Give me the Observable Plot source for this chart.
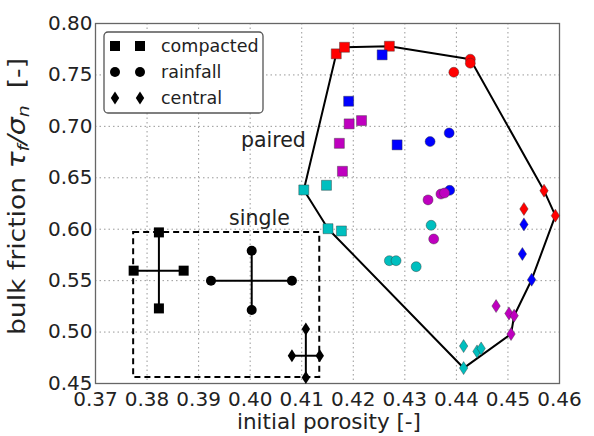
<!DOCTYPE html>
<html><head><meta charset="utf-8">
<script src="https://cdn.jsdelivr.net/npm/d3@7"></script>
<script src="https://cdn.jsdelivr.net/npm/@observablehq/plot@0.6"></script>
<style>
body{margin:0;background:#fff}
svg{font-family:"DejaVu Sans",sans-serif}
</style>
</head><body><div id="chart"></div>
<script>
// ---- data ----
const xTicks = [0.37,0.38,0.39,0.40,0.41,0.42,0.43,0.44,0.45,0.46];
const yTicks = [0.45,0.50,0.55,0.60,0.65,0.70,0.75,0.80];
const groupColors = {red:"#ff0000", blue:"#0000ff", magenta:"#bf00bf", cyan:"#00bfbf"};

const compactedX = [0.4167,0.4183,0.4270, 0.4256,0.4191,0.4285, 0.4192,0.4216,0.4173,0.4179, 0.4104,0.4148,0.4151,0.4177];
const compactedY = [0.7705,0.7769,0.7779, 0.7695,0.7244,0.6820, 0.7024,0.7056,0.6835,0.6563, 0.6382,0.6427,0.6005,0.5983];
const compactedG = ["red","red","red","blue","blue","blue","magenta","magenta","magenta","magenta","cyan","cyan","cyan","cyan"];

const rainfallX = [0.4427,0.4427,0.4395, 0.4349,0.4386,0.4387, 0.4345,0.4370,0.4377,0.4356, 0.4351,0.4270,0.4283,0.4322];
const rainfallY = [0.7653,0.7614,0.7526, 0.6852,0.6936,0.6378, 0.6285,0.6342,0.6352,0.5905, 0.6038,0.5694,0.5694,0.5636];
const rainfallG = ["red","red","red","blue","blue","blue","magenta","magenta","magenta","magenta","cyan","cyan","cyan","cyan"];

const centralX = [0.4570,0.4531,0.4592, 0.4531,0.4528,0.4546, 0.4477,0.4502,0.4512,0.4506, 0.4414,0.4440,0.4448,0.4414];
const centralY = [0.6375,0.6197,0.6132, 0.6047,0.5759,0.5509, 0.5253,0.5181,0.5159,0.4981, 0.4864,0.4812,0.4841,0.4650];
const centralG = ["red","red","red","blue","blue","blue","magenta","magenta","magenta","magenta","cyan","cyan","cyan","cyan"];

// hull of the paired tests
const hullX = [0.4167,0.4183,0.4270,0.4427,0.4570,0.4592,0.4546,0.4512,0.4506,0.4414,0.4151,0.4104,0.4167];
const hullY = [0.7705,0.7769,0.7779,0.7653,0.6375,0.6132,0.5509,0.5159,0.4981,0.4650,0.6005,0.6382,0.7705];

// single tests: centre and range
const singleType = ["compacted","rainfall","central"];
const singleX   = [0.3823,0.4003,0.4108];
const singleY   = [0.5597,0.5499,0.4770];
const singleXLo = [0.3774,0.3924,0.4081];
const singleXHi = [0.3871,0.4081,0.4135];
const singleYLo = [0.5230,0.5214,0.4559];
const singleYHi = [0.5969,0.5791,0.5029];

const labelText = ["paired","single"];
const labelX = [0.4045,0.4018];
const labelY = [0.6862,0.6103];

// ---- symbols ----
const sqSym = {draw(c){ const s=5; c.moveTo(-s,-s); c.lineTo(s,-s); c.lineTo(s,s); c.lineTo(-s,s); c.closePath(); }};
const ciSym = {draw(c){ c.moveTo(5,0); c.arc(0,0,5,0,2*Math.PI); c.closePath(); }};
const diSym = {draw(c){ c.moveTo(0,-6.5); c.lineTo(4.2,0); c.lineTo(0,6.5); c.lineTo(-4.2,0); c.closePath(); }};
const symFor = {compacted: sqSym, rainfall: ciSym, central: diSym};

const mk = (X,Y,G) => X.map((x,i)=>({x, y:Y[i], c:groupColors[G[i]]}));
const compacted = mk(compactedX,compactedY,compactedG);
const rainfall = mk(rainfallX,rainfallY,rainfallG);
const central = mk(centralX,centralY,centralG);
const hull = hullX.map((x,i)=>({x, y:hullY[i]}));
const single = singleType.map((t,i)=>({t, x:singleX[i], y:singleY[i], xlo:singleXLo[i], xhi:singleXHi[i], ylo:singleYLo[i], yhi:singleYHi[i]}));
const singleEnds = single.flatMap(d=>[
  {t:d.t,x:d.xlo,y:d.y},{t:d.t,x:d.xhi,y:d.y},{t:d.t,x:d.x,y:d.ylo},{t:d.t,x:d.x,y:d.yhi}]);
const box = [{x1:d3.min(singleXLo), x2:d3.max(singleXHi), y1:d3.min(singleYLo), y2:d3.max(singleYHi)}];
const labels = labelText.map((t,i)=>({t, x:labelX[i], y:labelY[i]}));
const fmt = d3.format(".2f");

const edge = {stroke:"#333", strokeOpacity:0.6, strokeWidth:0.7};
const pairedDots = (data, sym) => Plot.dot(data, {x:"x", y:"y", fill:"c", symbol:sym, r:5, ...edge});

const chart = Plot.plot({
  width: 594, height: 436,
  marginLeft: 95, marginRight: 35, marginTop: 23, marginBottom: 53,
  x: {domain:[0.37,0.46], label:null, axis:null},
  y: {domain:[0.45,0.80], label:null, axis:null},
  color: {type:"identity"},
  style: {fontFamily:"DejaVu Sans, sans-serif", fontSize:"20px", background:"white", color:"#222"},
  marks: [
    Plot.gridX(xTicks, {stroke:"#999", strokeOpacity:1, strokeDasharray:"1.5,3"}),
    Plot.gridY(yTicks, {stroke:"#999", strokeOpacity:1, strokeDasharray:"1.5,3"}),
    Plot.frame({stroke:"#666", strokeWidth:1.3}),
    // tick labels
    Plot.text(xTicks, {x:d=>d, text:d=>fmt(d), frameAnchor:"bottom", lineAnchor:"top", dy:8, fontSize:20, fill:"#222"}),
    Plot.text(yTicks, {y:d=>d, text:d=>fmt(d), frameAnchor:"left", textAnchor:"end", dx:-3, fontSize:20, fill:"#222"}),
    Plot.rect(box, {x1:"x1", x2:"x2", y1:"y1", y2:"y2", fill:"none", stroke:"black", strokeWidth:2, strokeDasharray:"6,4"}),
    Plot.line(hull, {x:"x", y:"y", stroke:"black", strokeWidth:2}),
    Plot.link(single, {x1:"xlo", x2:"xhi", y1:"y", y2:"y", stroke:"black", strokeWidth:2}),
    Plot.link(single, {x1:"x", x2:"x", y1:"ylo", y2:"yhi", stroke:"black", strokeWidth:2}),
    ...singleType.map(t => Plot.dot(singleEnds.filter(d=>d.t===t), {x:"x", y:"y", fill:"black", symbol:symFor[t], r:5})),
    pairedDots(compacted, sqSym),
    pairedDots(rainfall, ciSym),
    pairedDots(central, diSym),
    Plot.text(labels, {x:"x", y:"y", text:"t", fontSize:20.5, fill:"#222"})
  ]
});
document.getElementById("chart").appendChild(chart);

const svg = d3.select(chart);

// x label
svg.append("text").attr("x",329).attr("y",429).attr("text-anchor","middle")
  .attr("font-size",21.5).attr("fill","#222").text("initial porosity [-]");
// y label (stretched along its length like the reference)
const yl = svg.append("text").attr("transform","translate(25,196.5) rotate(-90)")
  .attr("text-anchor","middle").attr("font-size",22.5).attr("fill","#222")
  .attr("textLength",277).attr("lengthAdjust","spacingAndGlyphs");
yl.append("tspan").text("bulk friction ");
yl.append("tspan").attr("font-style","italic").attr("font-size",24).text("τ");
yl.append("tspan").attr("font-style","italic").attr("font-size",16).attr("dy",4).text("f");
yl.append("tspan").attr("font-style","italic").attr("font-size",24).attr("dy",-4).text("/");
yl.append("tspan").attr("font-style","italic").attr("font-size",24).text("σ");
yl.append("tspan").attr("font-style","italic").attr("font-size",16).attr("dy",4).text("n");
yl.append("tspan").attr("dy",-4).text("  [-]");

// legend
const lg = svg.append("g").attr("text-anchor","start");
lg.append("rect").attr("x",104).attr("y",32).attr("width",159).attr("height",81).attr("rx",4)
  .attr("fill","white").attr("stroke","#555").attr("stroke-width",1.3);
const legendRows = [["compacted",sqSym,46],["rainfall",ciSym,72],["central",diSym,98]];
for (const [name,sym,yy] of legendRows) {
  for (const xx of [115,140]) {
    lg.append("path").attr("d", d3.symbol(sym)()).attr("transform",`translate(${xx},${yy})`).attr("fill","black");
  }
  lg.append("text").attr("x",161).attr("y",yy).attr("dy","0.35em").attr("text-anchor","start")
    .attr("font-size",17.5).attr("fill","#222").text(name);
}
</script></body></html>
